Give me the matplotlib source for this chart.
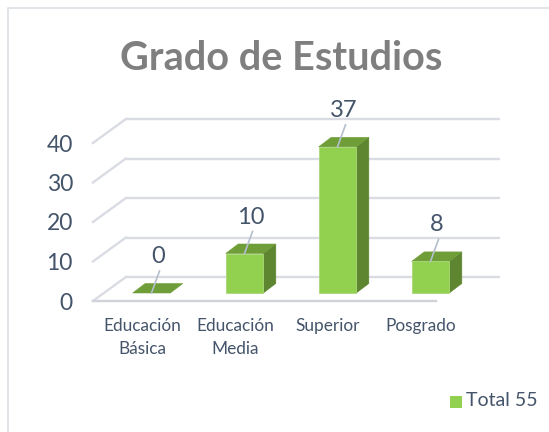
import matplotlib.pyplot as plt
from matplotlib.patches import Polygon, Rectangle
from matplotlib.lines import Line2D
from matplotlib.transforms import Affine2D

categories = ['Educación\nBásica', 'Educación\nMedia', 'Superior', 'Posgrado']
values = [0, 10, 37, 8]
y_ticks = [0, 10, 20, 30, 40]
legend_label = 'Total 55'
title = 'Grado de Estudios'

front_color = '#92d050'
top_color = '#6f9e38'
side_color = '#5e8530'
grid_color = '#d9dce2'
text_color = '#44546a'
leader_color = '#b4bfce'

W, H = 549, 432
BAR_W = 0.405
PX_X = 93.0  # pixels per category
PX_Y = 3.95  # pixels per unit


def shifted(ax, dx, dy):
    # data transform moved by some pixels, used to fake the 3d depth
    return ax.transData + Affine2D().translate(dx, dy)


def draw_box(ax, x, val):
    left = x - BAR_W / 2
    right = x + BAR_W / 2
    dx, dy = 12.5, 9.5
    off = shifted(ax, dx, dy)
    if val > 0:
        ax.add_patch(Rectangle((left, 0), BAR_W, val, fc=front_color, ec='#a9d77a', lw=0.6, zorder=4))
        # side face
        p0 = ax.transData.transform([(right, 0), (right, val)])
        p1 = off.transform([(right, val), (right, 0)])
        ax.add_patch(Polygon(list(p0) + list(p1), closed=True, fc=side_color, ec=side_color, lw=0.4,
                             transform=None, zorder=3))
    p0 = ax.transData.transform([(left, val), (right, val)])
    p1 = off.transform([(right, val), (left, val)])
    ax.add_patch(Polygon(list(p0) + list(p1), closed=True, fc=top_color, ec=top_color, lw=0.4,
                         transform=None, zorder=3))


def main():
    plt.rcParams['font.family'] = ['Lato', 'DejaVu Sans']
    fig = plt.figure(figsize=(W / 100, H / 100), dpi=100)
    ax = fig.add_axes([0, 0, 1, 1])
    ax.set_xlim(-151.5 / PX_X, (W - 151.5) / PX_X)
    ax.set_ylim(-(H - 293) / PX_Y, 293 / PX_Y)
    ax.axis('off')

    # chart border, only top and left show in the picture
    border_x = [7.5 / W, 7.5 / W, 1]
    border_y = [0, 1 - 7.5 / H, 1 - 7.5 / H]
    fig.add_artist(Line2D(border_x, border_y, color='#e1e5ea', lw=1.4, transform=fig.transFigure))

    xs = list(range(len(categories)))
    x0, x1 = xs[0] - 0.63, xs[-1] + 0.415

    # wall gridlines and floor connectors
    wall = shifted(ax, 33, 16)
    for t in y_ticks:
        ax.plot([x0, x1 - 0.03], [t, t], color=grid_color, lw=1.7, transform=wall, solid_capstyle='round', zorder=1)
    front = shifted(ax, 0, -8)
    for t in y_ticks:
        a = front.transform((x0, t))
        b = wall.transform((x0, t))
        ax.plot([a[0], b[0]], [a[1], b[1]], color=grid_color, lw=1.7, transform=None, zorder=1)
    ax.plot([x0, x1 - 33 / PX_X], [0, 0], color='#cfd2d8', lw=1.7, transform=front, zorder=1)

    for t in y_ticks:
        ax.text(x0 - 0.215, t, str(t), transform=shifted(ax, 0, -10), ha='right', va='center',
                fontsize=16.5, color=text_color)

    for x, v, name in zip(xs, values, categories):
        draw_box(ax, x, v)
        tip = shifted(ax, 8, 22).transform((x, v))
        base = ax.transData.transform((x, v))
        ax.plot([base[0], tip[0]], [base[1], tip[1]], color=leader_color, lw=1.2, transform=None, zorder=5)
        ax.text(x, v, str(v), transform=shifted(ax, 6.5, 26), ha='center', va='bottom',
                fontsize=17, color=text_color, zorder=6)
        ax.text(x, 0, name, transform=shifted(ax, -9.5, -25), ha='center', va='top',
                fontsize=12.4, color=text_color, linespacing=1.5)

    ax.text(281 / W, 1 - 58 / H, title, transform=ax.transAxes, ha='center', va='center',
            fontsize=28.5, fontweight='bold', color='#7f7f7f')

    # legend
    ax.add_patch(Rectangle((450 / W, 1 - 408 / H), 12 / W, 12 / H, fc=front_color, ec='none',
                           transform=ax.transAxes))
    ax.text(466 / W, 1 - 401 / H, legend_label, transform=ax.transAxes, ha='left', va='center',
            fontsize=14, color=text_color)

    fig.savefig('out.png', dpi=100)
    plt.close(fig)


if __name__ == '__main__':
    main()
